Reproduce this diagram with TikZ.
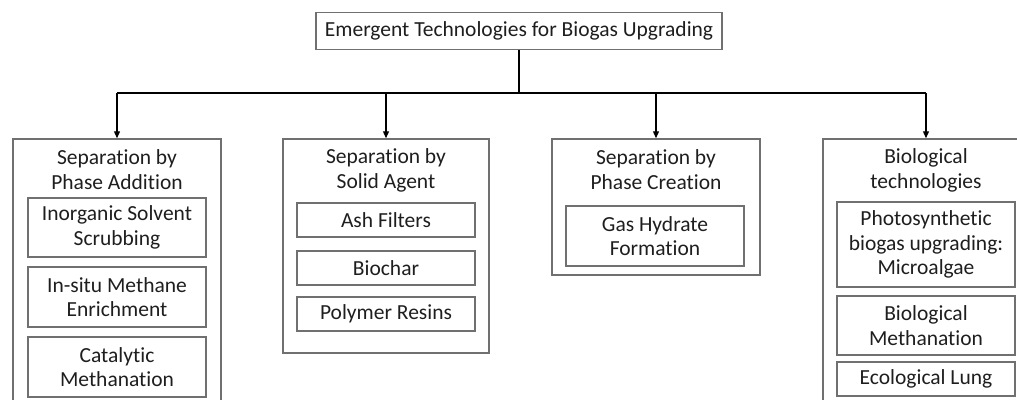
\documentclass[tikz,border=0pt]{standalone}
\usepackage{fontspec}
\setmainfont[RawFeature={-liga;-clig;-calt;-dlig}]{Carlito}
\usetikzlibrary{arrows.meta}
\definecolor{edge}{HTML}{707070}
\definecolor{ink}{HTML}{1E1E1E}
\begin{document}
\begin{tikzpicture}[x=1pt,y=-1pt,
  box/.style={draw=edge,line width=1.5pt,inner sep=0pt,align=center,text=ink,font=\fontsize{21.5}{24.5}\selectfont},
  title/.style={inner sep=0pt,align=center,text=ink,font=\fontsize{21.5}{25}\selectfont},
  conn/.style={draw=black,line width=1.3pt},
  arr/.style={conn,-{Triangle[length=7pt,width=6pt]}}]
\useasboundingbox (0,0) rectangle (1017,399);
\clip (0,0) rectangle (1017,399);
% top
\node[box,minimum width=406pt,minimum height=37pt] (top) at (519,31) {Emergent Technologies for Biogas Upgrading};
\coordinate (bus) at (519,93);
% outer boxes
\node[box,minimum width=208pt,minimum height=290pt] (b1) at (117,284) {};
\node[box,minimum width=206pt,minimum height=214pt] (b2) at (386,246) {};
\node[box,minimum width=208pt,minimum height=136pt] (b3) at (656,207) {};
\node[box,minimum width=206pt,minimum height=290pt] (b4) at (926,284) {};
% titles
\node[title] (t1) at (117,170) {Separation by\\Phase Addition};
\node[title] (t2) at (386,170) {Separation by\\Solid Agent};
\node[title] (t3) at (656,170) {Separation by\\Phase Creation};
\node[title] (t4) at (926,170) {Biological\\technologies};
% inner boxes
\node[box,minimum width=178pt,minimum height=59pt] (i11) at (117,227.5) {Inorganic Solvent\\Scrubbing};
\node[box,minimum width=178pt,minimum height=60pt] (i12) at (117,297) {In-situ Methane\\Enrichment};
\node[box,minimum width=178pt,minimum height=60pt] (i13) at (117,367) {Catalytic\\Methanation};
\node[box,minimum width=178pt,minimum height=34pt] (i21) at (386,220) {Ash Filters};
\node[box,minimum width=178pt,minimum height=34pt] (i22) at (386,268) {Biochar};
\node[box,minimum width=178pt,minimum height=34pt] (i23) at (386,314) {Polymer Resins};
\node[box,minimum width=178pt,minimum height=60pt] (i31) at (655,236) {Gas Hydrate\\Formation};
\node[box,minimum width=178pt,minimum height=85pt] (i41) at (926,244.5) {Photosynthetic\\biogas upgrading:\\Microalgae};
\node[box,minimum width=178pt,minimum height=59pt] (i42) at (926,325.5) {Biological\\Methanation};
\node[box,minimum width=178pt,minimum height=34pt] (i43) at (926,379) {Ecological Lung};
% connectors
\draw[conn] (top.south) -- (bus);
\draw[conn] (b1.north|-bus) -- (b4.north|-bus);
\draw[arr] (b1.north|-bus) -- (b1.north);
\draw[arr] (b2.north|-bus) -- (b2.north);
\draw[arr] (b3.north|-bus) -- (b3.north);
\draw[arr] (b4.north|-bus) -- (b4.north);
\end{tikzpicture}
\end{document}
